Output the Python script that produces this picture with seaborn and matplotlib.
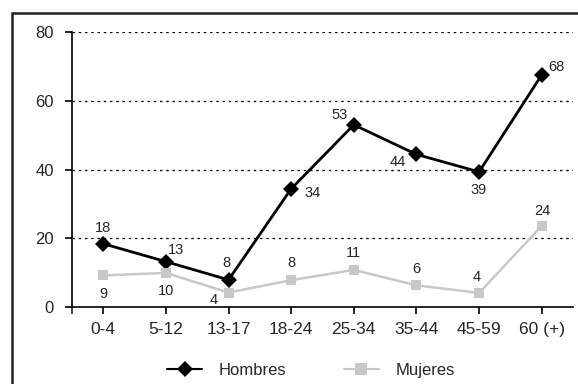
import matplotlib
matplotlib.use("Agg")
import matplotlib.pyplot as plt
import matplotlib.patches as mpatches
import pandas as pd
import seaborn as sns

# Data
grupos = ["0-4", "5-12", "13-17", "18-24", "25-34", "35-44", "45-59", "60 (+)"]
hombres = [18.4, 13.2, 7.9, 34.4, 53.0, 44.4, 39.3, 67.5]
mujeres = [9.2, 9.9, 4.2, 7.8, 10.8, 6.3, 4.1, 23.6]
etiquetas_y = [0, 20, 40, 60, 80]

# label offsets (pixels, x right / y up)
off_h = [(0, 16), (10, 12), (-2, 17), (21, -4), (-14, 10), (-19, -8), (0, -18), (15, 8)]
off_m = [(0, -19), (0, -18), (-15, -7), (0, 17), (0, 17), (0, 16), (-2, 16), (1, 15)]

sns.set_style("white")
plt.rcParams["font.family"] = ["Liberation Sans Narrow", "Liberation Sans", "DejaVu Sans"]

df = pd.DataFrame({
    "Grupo": grupos * 2,
    "Valor": hombres + mujeres,
    "Sexo": ["Hombres"] * len(grupos) + ["Mujeres"] * len(grupos),
})

fig = plt.figure(figsize=(5.78, 3.84), dpi=100)
ax = fig.add_axes([72 / 578, 77 / 384, 501 / 578, 275 / 384])

sns.lineplot(data=df, x="Grupo", y="Valor", hue="Sexo", style="Sexo",
             palette={"Hombres": "black", "Mujeres": "#c8c8c8"},
             markers={"Hombres": "D", "Mujeres": "s"}, dashes=False,
             markersize=8, markeredgewidth=0, sort=False, ax=ax)
for line, lw in zip(ax.lines, [2.0, 1.8]):
    line.set_linewidth(lw)
ax.lines[1].set_markersize(7.5)

px = 0.72
for i, v in enumerate(hombres):
    ax.annotate(f"{round(v)}", (i, v), xytext=(off_h[i][0] * px, off_h[i][1] * px),
                textcoords="offset points", ha="center", va="center", fontsize=10.5)
for i, v in enumerate(mujeres):
    ax.annotate(f"{round(v)}", (i, v), xytext=(off_m[i][0] * px, off_m[i][1] * px),
                textcoords="offset points", ha="center", va="center", fontsize=10.5)

ax.set_xlim(-0.5, 7.5)
ax.set_ylim(0, 80)
ax.set_yticks(etiquetas_y)
ax.set_xlabel("")
ax.set_ylabel("")
for y in etiquetas_y[1:]:
    ax.axhline(y, color="black", lw=0.9, ls=(0, (2, 3)), zorder=0)
for s in ["top", "right"]:
    ax.spines[s].set_visible(False)
for s in ["left", "bottom"]:
    ax.spines[s].set_color("black")
    ax.spines[s].set_linewidth(1.2)
ax.tick_params(axis="both", direction="out", length=5, width=1.2, color="black",
               labelsize=12, pad=4, bottom=True, left=True)
ax.tick_params(axis="x", labelsize=12.5, pad=6)
ax.tick_params(axis="y", pad=8)
ax.set_xticks([-0.5], minor=True)
ax.tick_params(axis="x", which="minor", length=5, width=1.2, bottom=True)

handles, labels = ax.get_legend_handles_labels()
ax.legend(handles, labels, loc="center left", bbox_to_anchor=(167 / 578, 0.036),
          bbox_transform=fig.transFigure, ncol=2, frameon=False, fontsize=12,
          handlelength=2.1, columnspacing=3.45, handletextpad=1.0, borderaxespad=0,
          borderpad=0)

fig.patches.append(mpatches.Rectangle((12 / 578, -0.1), 1.2, (384 - 13) / 384 + 0.1,
                                      transform=fig.transFigure, fill=False,
                                      edgecolor="#222222", lw=1.8, figure=fig))

fig.savefig("out.png", dpi=100)
